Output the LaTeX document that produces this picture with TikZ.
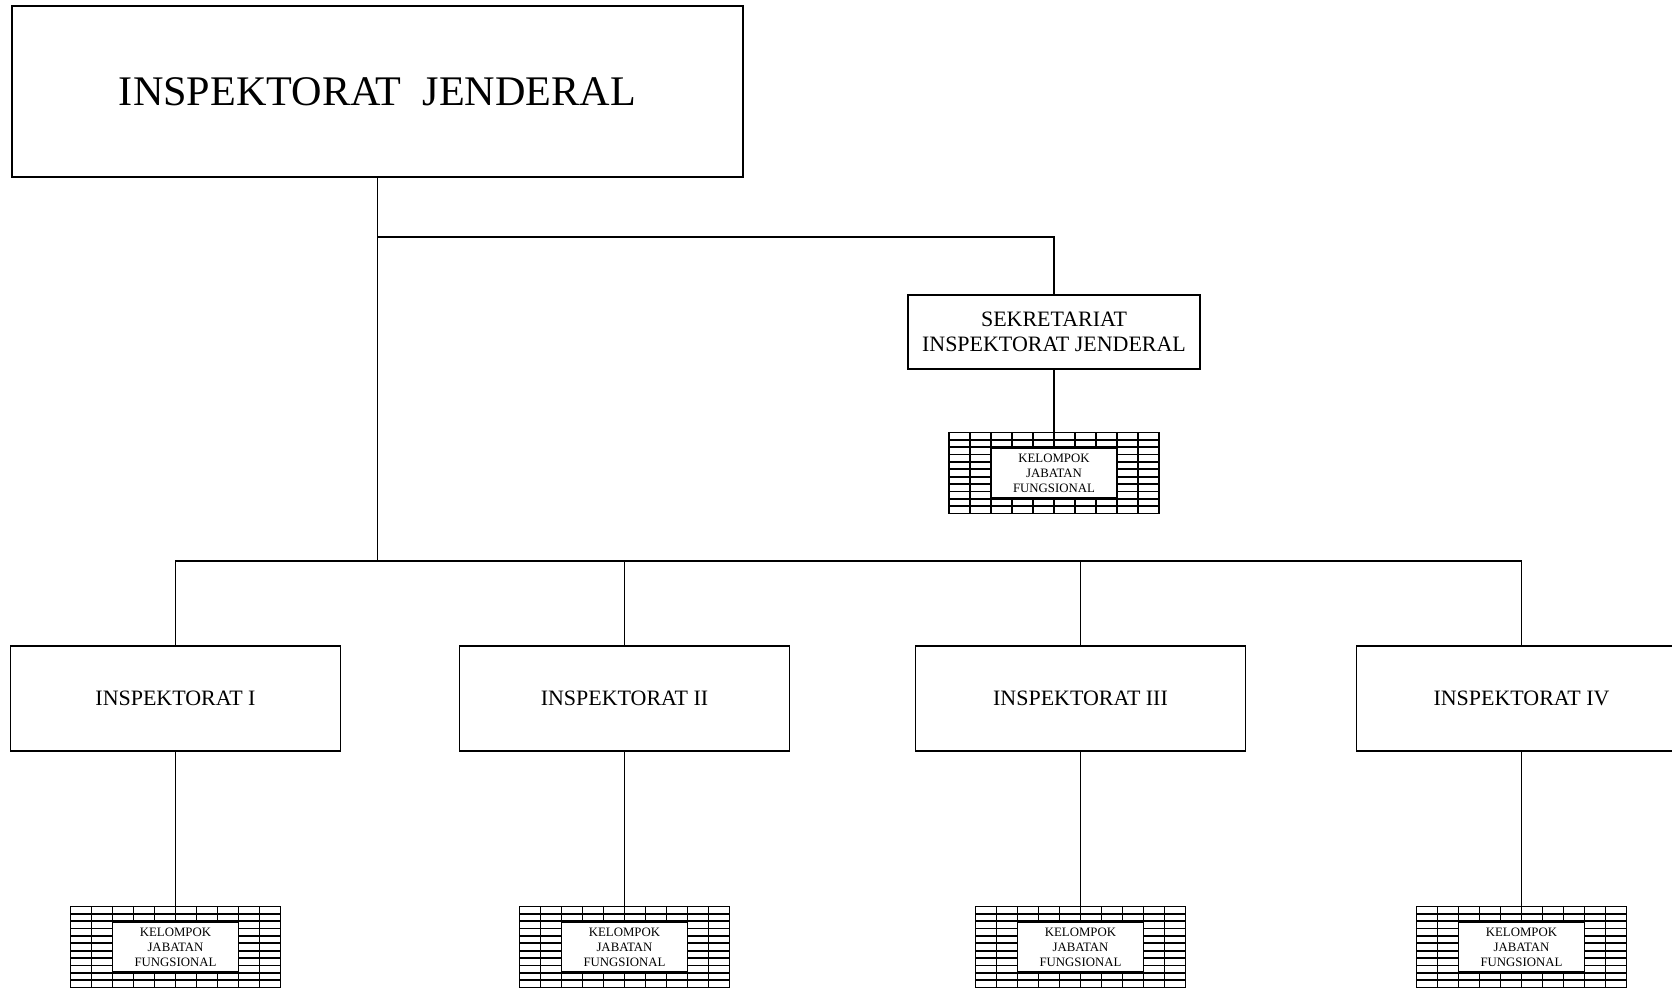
\documentclass[tikz,border=0pt]{standalone}
\usepackage{fontspec}
\setmainfont{Liberation Serif}
\usetikzlibrary{calc}
\tikzset{
every picture/.style={line width=1.1pt},
%%%%%%%%%%  Node styles
unit/.style={draw, inner sep=0pt, align=center,
             font=\fontsize{12.5}{14}\selectfont},
head/.style={draw, inner sep=0pt, minimum width=14.62cm,
             minimum height=3.42cm, font=\fontsize{24}{28}\selectfont},
inspbox/.style={unit, minimum width=6.6cm, minimum height=2.1cm},
sekbox/.style={unit, minimum width=5.84cm, minimum height=1.48cm},
%%%% brick filled boxes
brick/.style={line width=1pt},
kjf/.style={draw, inner sep=0pt, minimum width=4.2cm, minimum height=1.62cm,
   path picture={
     \foreach \c in {1,...,9}
       \draw[brick] ([xshift=\c*4.2mm]path picture bounding box.south west)
                 -- ([xshift=\c*4.2mm]path picture bounding box.north west);
     \foreach \r in {1,...,10}
       \draw[brick] ([yshift=\r*1.473mm]path picture bounding box.south west)
                 -- ([yshift=\r*1.473mm]path picture bounding box.south east);
   }},
kjflabel/.style={draw, fill=white, line width=0.8pt, inner sep=0pt,
                 minimum width=2.52cm, minimum height=1cm, align=center,
                 font=\fontsize{7.3}{8.5}\selectfont}
}
\newcommand{\kjftext}{KELOMPOK\\JABATAN\\FUNGSIONAL}

\begin{document}
\begin{tikzpicture}
\useasboundingbox (0,0) rectangle (33.44,-19.78);
\clip (0,0) rectangle (33.44,-19.78);
%%%%%%% top
\node[head] (ij) at (7.55,-1.83) {INSPEKTORAT\ \ JENDERAL};
\node[sekbox] (sek) at (21.08,-6.64) {SEKRETARIAT\\INSPEKTORAT JENDERAL};
\node[kjf] (kjf0) at (21.08,-9.46) {};
\node[kjflabel] (kjft0) at (kjf0) {\kjftext};
%%%%%%% inspektorat row
\node[inspbox] (i1) at (3.51,-13.97) {INSPEKTORAT I};
\node[inspbox] (i2) at (12.49,-13.97) {INSPEKTORAT II};
\node[inspbox] (i3) at (21.61,-13.97) {INSPEKTORAT III};
\node[inspbox] (i4) at (30.43,-13.97) {INSPEKTORAT IV};
\node[kjf] (kjf1) at (3.51,-18.94) {};
\node[kjflabel] (kjft1) at (kjf1) {\kjftext};
\node[kjf] (kjf2) at (12.49,-18.94) {};
\node[kjflabel] (kjft2) at (kjf2) {\kjftext};
\node[kjf] (kjf3) at (21.61,-18.94) {};
\node[kjflabel] (kjft3) at (kjf3) {\kjftext};
\node[kjf] (kjf4) at (30.43,-18.94) {};
\node[kjflabel] (kjft4) at (kjf4) {\kjftext};
%%%%%%% connectors
\coordinate (branch) at (ij.south |- 0,-4.74);
\coordinate (bus) at (ij.south |- 0,-11.22);
\draw (ij.south) -- (bus);
\draw (branch) -| (sek.north);
\draw (sek.south) -- (kjf0.north);
\draw (i1.north) |- (bus -| i4.north) -- (i4.north);
\draw (bus -| i2.north) -- (i2.north);
\draw (bus -| i3.north) -- (i3.north);
\draw (i1.south) -- (kjf1.north);
\draw (i2.south) -- (kjf2.north);
\draw (i3.south) -- (kjf3.north);
\draw (i4.south) -- (kjf4.north);
\end{tikzpicture}
\end{document}
